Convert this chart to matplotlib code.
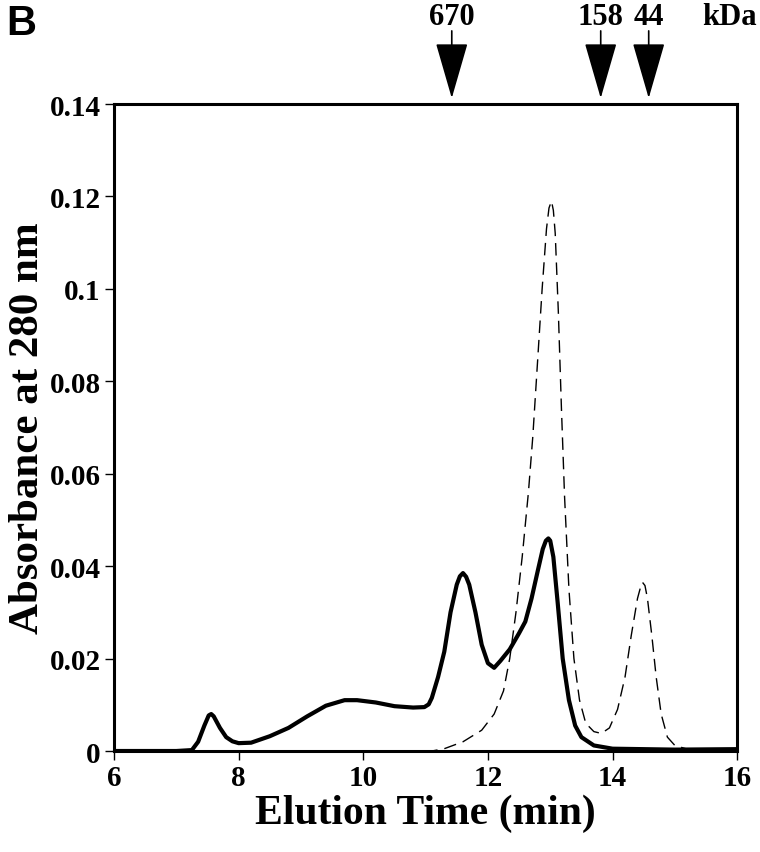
import numpy as np
import matplotlib
matplotlib.use("Agg")
import matplotlib.pyplot as plt

# solid trace (sample)
solid_t = [6.0, 7.0, 7.25, 7.35, 7.45, 7.52, 7.56, 7.6, 7.7, 7.8, 7.9, 8.0, 8.2, 8.5,
           8.8, 9.1, 9.4, 9.7, 9.9, 10.2, 10.5, 10.8, 10.98, 11.05, 11.1, 11.2, 11.3,
           11.4, 11.5, 11.55, 11.6, 11.65, 11.7, 11.8, 11.9, 12.0, 12.1, 12.2, 12.35,
           12.5, 12.6, 12.7, 12.8, 12.88, 12.93, 12.97, 13.0, 13.05, 13.12, 13.2, 13.3,
           13.4, 13.5, 13.7, 14.0, 15.0, 16.0]
solid_a = [0, 0, 0.0002, 0.002, 0.0055, 0.0077, 0.008, 0.0075, 0.005, 0.003, 0.0021,
           0.0017, 0.0018, 0.0032, 0.005, 0.0075, 0.0098, 0.011, 0.011, 0.0105, 0.0097,
           0.0094, 0.0095, 0.0101, 0.0115, 0.016, 0.0215, 0.030, 0.036, 0.0378, 0.0385,
           0.0377, 0.036, 0.030, 0.023, 0.019, 0.018, 0.0195, 0.022, 0.0255, 0.028,
           0.033, 0.039, 0.0437, 0.0455, 0.046, 0.0455, 0.042, 0.032, 0.020, 0.011,
           0.0055, 0.003, 0.0012, 0.0005, 0.0003, 0.0004]

# dashed trace (reference)
dash_t = [6.0, 11.1, 11.3, 11.6, 11.9, 12.1, 12.25, 12.35, 12.45, 12.55, 12.65, 12.72,
          12.8, 12.87, 12.94, 12.98, 13.02, 13.05, 13.08, 13.13, 13.18, 13.23, 13.3,
          13.38, 13.47, 13.57, 13.7, 13.82, 13.95, 14.08, 14.2, 14.3, 14.4, 14.45,
          14.48, 14.52, 14.56, 14.63, 14.7, 14.78, 14.88, 15.0, 15.2, 15.5, 16.0]
dash_a = [0, 0, 0.0005, 0.002, 0.0045, 0.008, 0.013, 0.02, 0.03, 0.042, 0.056, 0.068,
          0.085, 0.1, 0.113, 0.1175, 0.119, 0.117, 0.112, 0.095, 0.074, 0.055, 0.035,
          0.02, 0.011, 0.006, 0.0042, 0.0038, 0.005, 0.009, 0.016, 0.025, 0.033,
          0.0355, 0.0365, 0.0358, 0.033, 0.025, 0.016, 0.008, 0.003, 0.0012, 0.0004,
          0, 0]

# size markers
marker_t = [11.42, 13.81, 14.58]
marker_lbl = ["670", "158", "44"]

xticks = [6, 8, 10, 12, 14, 16]
yticks = [0, 0.02, 0.04, 0.06, 0.08, 0.1, 0.12, 0.14]
ylabels = ["0", "0.02", "0.04", "0.06", "0.08", "0.1", "0.12", "0.14"]

serif = "Liberation Serif"

fig = plt.figure(figsize=(7.6, 8.53), dpi=100)
ax = fig.add_axes([0.150, 0.1184, 0.820, 0.7585])

ax.plot(dash_t, dash_a, color="black", lw=1.0, dashes=(9, 5))
ax.plot(solid_t, solid_a, color="black", lw=3.0, solid_joinstyle="round",
        solid_capstyle="round")

ax.set_xlim(6, 16)
ax.set_ylim(0, 0.14)
ax.set_xticks(xticks)
ax.set_xticklabels([str(v) for v in xticks])
ax.set_yticks(yticks)
ax.set_yticklabels(ylabels)
for s in ax.spines.values():
    s.set_linewidth(2.2)
ax.tick_params(direction="out", length=6.5, width=1.0, pad=3)
for lab in ax.get_xticklabels() + ax.get_yticklabels():
    lab.set_fontfamily(serif)
    lab.set_fontweight("bold")
    lab.set_fontsize(21)

ax.set_xlabel("Elution Time (min)", family=serif, weight="bold", fontsize=30, labelpad=2)
ax.set_ylabel("Absorbance at 280 nm", family=serif, weight="bold", fontsize=31, labelpad=2)

for t, lbl in zip(marker_t, marker_lbl):
    ax.annotate("", xy=(t, 1.009), xycoords=("data", "axes fraction"),
                xytext=(t, 1.113), textcoords=("data", "axes fraction"),
                arrowprops=dict(arrowstyle="-|>,head_length=36,head_width=10.4",
                                mutation_scale=1, color="black", lw=1.2,
                                shrinkA=0, shrinkB=0))
    ax.text(t, 1.124, lbl, transform=ax.get_xaxis_transform(), ha="center",
            va="baseline", family=serif, weight="bold", fontsize=22)
ax.text(15.87, 1.124, "kDa", transform=ax.get_xaxis_transform(), ha="center",
        va="baseline", family=serif, weight="bold", fontsize=22)

fig.text(0.008, 0.995, "B", ha="left", va="top", family="Liberation Sans",
         weight="bold", fontsize=30)

fig.savefig("out.png", dpi=100)
